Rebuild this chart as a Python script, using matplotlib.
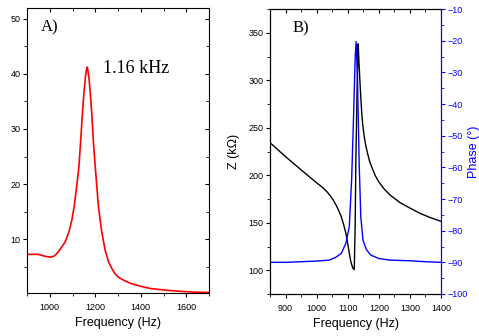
import numpy as np
import matplotlib.pyplot as plt
from matplotlib.ticker import MultipleLocator

###---panel A : amplitude vs frequency---###
freq_a = [900, 930, 950, 965, 985, 1005, 1020, 1030, 1042, 1055, 1064, 1071, 1085, 1097,
          1107, 1118, 1128, 1136, 1142.5, 1150, 1157, 1162, 1165, 1168, 1173, 1180, 1185.5,
          1192, 1200, 1214, 1228, 1243, 1258, 1272, 1284, 1300, 1330, 1358, 1400, 1444,
          1500, 1573, 1640, 1700]
amp_a = [7.3, 7.3, 7.3, 7.1, 6.9, 6.8, 7.0, 7.4, 8.0, 8.8, 9.3, 9.9, 11.5, 13.5,
         15.9, 19.5, 23.1, 28.0, 32.2, 36.5, 39.5, 40.9, 41.2, 40.5, 39.0, 35.5, 32.2,
         27.5, 23.1, 15.9, 11.5, 8.1, 6.0, 4.8, 3.95, 3.2, 2.5, 2.0, 1.5, 1.1,
         0.85, 0.6, 0.45, 0.4]

###---panel B : impedance and phase---###
freq_z = [850, 900, 950, 1000, 1020, 1035, 1047, 1055, 1065, 1072, 1079, 1086, 1094, 1100,
          1105, 1110, 1116, 1121, 1124, 1126, 1130, 1133.5, 1136, 1139, 1142, 1145, 1148,
          1152, 1157, 1163, 1170, 1178, 1188, 1200, 1216, 1237, 1269, 1300, 1332, 1365, 1400]
z_b = [234.3, 219.6, 205.7, 192.0, 187.0, 182.0, 177.0, 173.0, 167.0, 162.0, 156.6, 149.0, 139.0, 128.0,
       118.0, 109.0, 102.5, 100.7, 150.0, 212.0, 290.0, 338.4, 320.0, 300.0, 282.0, 266.0, 254.0,
       243.0, 233.0, 224.0, 215.0, 208.0, 200.0, 193.0, 186.0, 179.0, 171.0, 165.5, 160.0, 155.5, 151.5]

freq_p = [850, 900, 950, 1000, 1040, 1060, 1079, 1094, 1105, 1112.5, 1119, 1124, 1127, 1131.5,
          1136.7, 1142, 1149, 1160, 1174, 1200, 1237, 1300, 1350, 1400]
phase_b = [-90.0, -90.0, -89.8, -89.6, -89.3, -88.5, -87.2, -84.0, -78.7, -64.0, -43.0, -25.0, -20.3, -32.4,
           -58.7, -75.6, -83.0, -86.0, -87.7, -88.8, -89.3, -89.5, -89.8, -90.0]

plt.rcParams['font.family'] = 'Liberation Sans'
plt.rcParams['axes.linewidth'] = 0.8

fig = plt.figure(figsize=(4.79, 3.36), dpi=100)

###A)
ax1 = fig.add_axes([0.0564, 0.128, 0.380, 0.848])
ax1.plot(freq_a, amp_a, c="#ff0000", lw=1.2)
ax1.set_xlim(900, 1700)
ax1.set_ylim(0.3, 51.9)
ax1.xaxis.set_major_locator(MultipleLocator(200))
ax1.xaxis.set_minor_locator(MultipleLocator(100))
ax1.yaxis.set_major_locator(MultipleLocator(10))
ax1.yaxis.set_minor_locator(MultipleLocator(5))
ax1.set_yticks([10, 20, 30, 40, 50])
ax1.set_xlabel("Frequency (Hz)", fontsize=9, labelpad=4)
ax1.text(0.075, 0.96, "A)", transform=ax1.transAxes, fontsize=12, family="Liberation Serif", va="top")
ax1.text(1232, 40.1, "1.16 kHz", fontsize=13, family="Liberation Serif", va="baseline")

###B)
ax2 = fig.add_axes([0.5637, 0.125, 0.357, 0.848])
ax2.plot(freq_z, z_b, c="k", lw=1.0)
ax2.set_xlim(850, 1400)
ax2.set_ylim(75, 375)
ax2.xaxis.set_major_locator(MultipleLocator(100))
ax2.xaxis.set_minor_locator(MultipleLocator(50))
ax2.yaxis.set_major_locator(MultipleLocator(50))
ax2.yaxis.set_minor_locator(MultipleLocator(25))
ax2.set_yticks([100, 150, 200, 250, 300, 350])
ax2.set_xlabel("Frequency (Hz)", fontsize=9, labelpad=4)
ax2.set_ylabel("Z (k\u03a9)", fontsize=9, labelpad=6)
ax2.text(0.133, 0.96, "B)", transform=ax2.transAxes, fontsize=12, family="Liberation Serif", va="top")

ax3 = ax2.twinx()
ax3.plot(freq_p, phase_b, c="#0000ff", lw=1.0)
ax3.set_ylim(-100, -10)
ax3.yaxis.set_major_locator(MultipleLocator(10))
ax3.yaxis.set_minor_locator(MultipleLocator(5))
ax3.set_ylabel("Phase (\u00b0)", fontsize=9, color="#0000ff", labelpad=0)
ax3.spines['right'].set_color("#0000ff")
ax3.tick_params(axis='y', which='both', colors="#0000ff", direction='out', labelsize=6.5)
ax3.tick_params(axis='y', which='major', length=3, pad=1.5)
ax3.tick_params(axis='y', which='minor', length=2)

for ax in (ax1, ax2):
    ax.tick_params(which='both', top=True, right=(ax is ax1), direction='out', labelsize=6.5)
    ax.tick_params(which='major', length=3, pad=1.5)
    ax.tick_params(which='minor', length=2)
    ax.tick_params(axis='x', pad=4)

# mirrored ticks point inward (top of both panels, right of panel A)
for ax in (ax1, ax2):
    for t in ax.xaxis.get_major_ticks() + ax.xaxis.get_minor_ticks():
        t.tick2line.set_marker(3)
for t in ax1.yaxis.get_major_ticks() + ax1.yaxis.get_minor_ticks():
    t.tick2line.set_marker(0)

fig.savefig("out.png", dpi=100)
